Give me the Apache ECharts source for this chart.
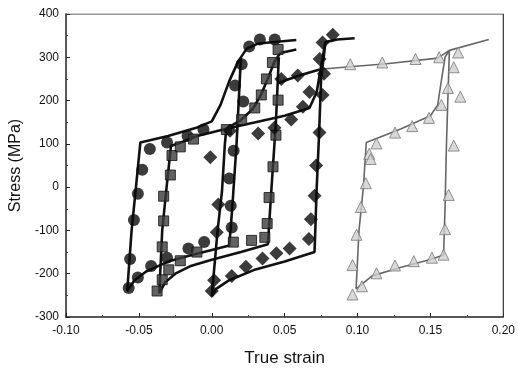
<!DOCTYPE html>
<html>
<head>
<meta charset="utf-8">
<script src="https://cdn.jsdelivr.net/npm/echarts@6/dist/echarts.min.js"></script>
<style>
  html, body { margin: 0; padding: 0; background: #fff; }
  #chart { width: 518px; height: 372px; }
</style>
</head>
<body>
<div id="chart"></div>
<script>
// model curves, one closed loop each (strain, stress)
var lineCircle = [[0.020,300],[0.017,100],[0.014,-50],[0.012,-135],[0.0,-145],[-0.015,-158],[-0.03,-172],[-0.045,-195],[-0.053,-215],[-0.058,-240],
  [-0.055,-100],[-0.052,0],[-0.049,103],[-0.03,118],[-0.01,138],[0.0,152],[0.006,190],[0.012,245],[0.018,290],[0.024,320],[0.032,332],[0.045,336],[0.058,340]];
var lineSquare = [[0.046,300],[0.044,150],[0.041,0],[0.0385,-132],[0.02,-150],[0.0,-168],[-0.015,-183],[-0.025,-200],[-0.032,-220],[-0.036,-245],
  [-0.034,-100],[-0.031,0],[-0.028,95],[-0.02,105],[-0.01,118],[0.01,135],[0.02,155],[0.028,180],[0.034,215],[0.039,255],[0.043,290],[0.047,310],[0.058,318]];
var lineDiamond = [[0.078,335],[0.075,250],[0.0735,114],[0.072,0],[0.0705,-150],[0.05,-172],[0.03,-190],[0.012,-215],[0.003,-235],[0.0,-252],
  [0.004,-100],[0.007,-10],[0.009,100],[0.010,135],[0.03,150],[0.05,165],[0.067,183],[0.072,220],[0.075,280],[0.078,335],[0.086,341],[0.098,344]];
var lineDiamondTop = [[0.045,240],[0.06,258],[0.074,272]];
var lineTriangle = [[0.076,273],[0.12,285],[0.155,298],[0.163,316],[0.161,100],[0.160,-50],[0.159,-157],[0.15,-167],[0.13,-185],[0.11,-205],[0.099,-235],
  [0.101,-100],[0.104,0],[0.106,103],[0.13,135],[0.15,165],[0.155,190],[0.157,235],[0.160,300],[0.163,316],[0.19,341]];

// measured points
var ptsCircle = [[-0.057,-233],[-0.0507,-209],[-0.056,-166],[-0.0534,-76],[-0.0507,-15],[-0.0477,40],[-0.0425,88],[-0.0307,103],[-0.0166,118],[-0.0057,133],
  [-0.0416,-182],[-0.0307,-163],[-0.016,-142],[-0.0052,-127],[0.0137,-93],[0.013,-43],[0.012,20],[0.015,84],[0.0216,198],[0.016,235],[0.0205,284],[0.0257,325],[0.033,341],[0.0432,341]];
var ptsSquare = [[-0.0375,-240],[-0.034,-214],[-0.0295,-191],[-0.0216,-170],[-0.0102,-150],[0.0148,-127],[0.0273,-123],[0.0364,-116],[0.038,-84],[0.0393,-24],[0.042,47],[0.044,120],[0.0455,201],
  [-0.034,-138],[-0.033,-78],[-0.033,-21],[-0.0284,28],[-0.0273,73],[-0.0216,93],[-0.0125,111],[0.010,133],[0.0205,156],[0.0295,183],[0.034,213],[0.0375,250],[0.0416,288],[0.0455,318]];
var ptsDiamond = [[0.0016,-215],[0.0137,-205],[0.0234,-184],[0.0348,-165],[0.0443,-153],[0.0534,-142],[0.0666,-120],[0.068,-74],[0.0705,-20],[0.0716,50],[0.0739,126],
  [0.0,-240],[0.0034,-104],[0.0045,-40],[-0.001,69],[0.0125,130],[0.0318,124],[0.043,137],[0.0545,156],[0.0625,186],[0.067,220],
  [0.0477,250],[0.059,258],[0.076,213],[0.077,262],[0.074,296],[0.076,334],[0.083,352]];
var ptsTriangle = [[0.095,284],[0.117,288],[0.1398,296],[0.156,300],[0.169,311],[0.166,277],[0.162,229],[0.1705,209],[0.1575,190],[0.149,160],[0.1375,141],[0.1257,126],[0.113,101],[0.108,77],
  [0.166,96],[0.1625,-18],[0.160,-97],[0.159,-156],[0.151,-163],[0.1386,-171],[0.1257,-181],[0.113,-199],[0.103,-229],[0.0966,-248],
  [0.0966,-180],[0.0993,-110],[0.1023,-46],[0.1057,9],[0.109,65]];

var xTicks = ['-0.10', '-0.05', '0.00', '0.05', '0.10', '0.15', '0.20'];

var chart = echarts.init(document.getElementById('chart'));

function modelLine(data, color, width) {
  return { type: 'line', data: data, symbol: 'none', z: 2, lineStyle: { color: color, width: width }, silent: true };
}

var option = {
  animation: false,
  grid: { left: 65, right: 13, top: 14, bottom: 49 },
  xAxis: {
    type: 'value', min: -0.10, max: 0.20, interval: 0.05,
    name: 'True strain', nameLocation: 'middle', nameGap: 33,
    nameTextStyle: { fontFamily: 'Liberation Sans', fontSize: 17, color: '#111' },
    axisLine: { onZero: false, lineStyle: { color: '#222', width: 1.5 } },
    axisTick: { inside: true, length: 4, lineStyle: { color: '#222' } },
    minorTick: { show: true, splitNumber: 2, length: 2, lineStyle: { color: '#444' } },
    axisLabel: { fontFamily: 'Liberation Sans', fontSize: 12, color: '#111', margin: 8,
      formatter: function (v) { return xTicks[Math.round((v + 0.10) / 0.05)]; } },
    splitLine: { show: false }
  },
  yAxis: {
    type: 'value', min: -300, max: 400, interval: 100,
    name: 'Stress (MPa)', nameLocation: 'middle', nameGap: 42,
    nameTextStyle: { fontFamily: 'Liberation Sans', fontSize: 16, color: '#111' },
    axisLine: { show: true, onZero: false, lineStyle: { color: '#222', width: 1.5 } },
    axisTick: { inside: true, length: 4, lineStyle: { color: '#222' } },
    minorTick: { show: true, splitNumber: 2, length: 2, lineStyle: { color: '#444' } },
    axisLabel: { fontFamily: 'Liberation Sans', fontSize: 12, color: '#111', margin: 7 },
    splitLine: { show: false }
  },
  series: [
    modelLine(lineCircle, '#111', 2.6),
    modelLine(lineSquare, '#111', 2.6),
    modelLine(lineDiamond, '#111', 2.6),
    modelLine(lineDiamondTop, '#111', 2.6),
    modelLine(lineTriangle, '#666', 1.6),
    { type: 'scatter', data: ptsCircle, symbol: 'circle', symbolSize: 12, z: 3,
      itemStyle: { color: '#0a0a0a' } },
    { type: 'scatter', data: ptsSquare, symbol: 'rect', symbolSize: 10, z: 3,
      itemStyle: { color: '#3c3c3c', borderColor: '#111', borderWidth: 1 } },
    { type: 'scatter', data: ptsDiamond, symbol: 'diamond', symbolSize: 14, z: 3,
      itemStyle: { color: '#0a0a0a' } },
    { type: 'scatter', data: ptsTriangle, symbol: 'triangle', symbolSize: 11, z: 3,
      itemStyle: { color: '#cfcfcf', borderColor: '#777', borderWidth: 1 } },
    // frame: top and right edges
    { type: 'line', data: [[-0.10, 400], [0.20, 400], [0.20, -300]], symbol: 'none', silent: true, z: 1,
      lineStyle: { color: '#333', width: 1.2 } }
  ]
};
chart.setOption(option);
</script>
</body>
</html>
